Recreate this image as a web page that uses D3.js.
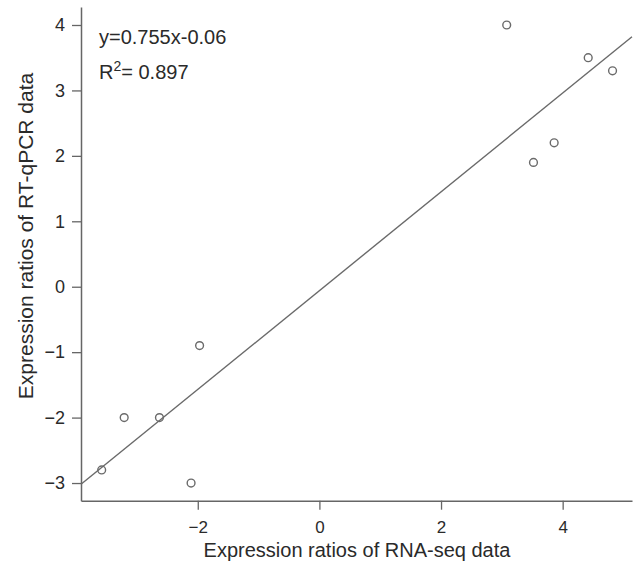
<!DOCTYPE html>
<html>
<head>
<meta charset="utf-8">
<script src="https://cdn.jsdelivr.net/npm/d3@7/dist/d3.min.js"></script>
<style>
  html, body { margin: 0; padding: 0; background: #fff; }
  svg { display: block; font-family: "Liberation Sans", Arial, sans-serif; }
</style>
</head>
<body>
<svg id="chart" width="633" height="564"></svg>
<script>
// Data
const rnaSeq = [-3.58, -3.21, -2.63, -1.97, -2.11, 3.08, 4.42, 4.82, 3.86, 3.52];
const rtqPCR = [-2.8, -2.0, -2.0, -0.9, -3.0, 4.0, 3.5, 3.3, 2.2, 1.9];
const xTicks = [-2, 0, 2, 4];
const yTicks = [-3, -2, -1, 0, 1, 2, 3, 4];
const slope = 0.755, intercept = -0.06;
const eqText = "y=0.755x-0.06";
const r2Text = "0.897";
const xLabel = "Expression ratios of RNA-seq data";
const yLabel = "Expression ratios of RT-qPCR data";

const svg = d3.select("#chart");
const grey = "#666";

const x = d3.scaleLinear().domain([-3.92, 5.14]).range([81, 632]);
const y = d3.scaleLinear().domain([-3.27, 4.275]).range([500.7, 7]);

const fmt = d => d < 0 ? "\u2212" + Math.abs(d) : d;

// axes
const xAxis = svg.append("g").attr("transform", `translate(0,${y.range()[0]})`)
  .call(d3.axisBottom(x).tickValues(xTicks).tickSize(9).tickSizeOuter(0).tickPadding(11).tickFormat(fmt));
const yAxis = svg.append("g").attr("transform", `translate(${x.range()[0]},0)`)
  .call(d3.axisLeft(y).tickValues(yTicks).tickSize(9).tickSizeOuter(0).tickPadding(7).tickFormat(fmt));
[xAxis, yAxis].forEach(g => {
  g.select(".domain").attr("stroke", grey).attr("stroke-width", 1.5);
  g.selectAll(".tick line").attr("stroke", grey).attr("stroke-width", 1.3);
  g.selectAll(".tick text").attr("fill", "#2a2a2a").style("font-size", "18px")
    .style("font-family", "'Liberation Sans', Arial, sans-serif");
});
xAxis.selectAll(".tick text").style("font-size", "17px");

// regression line
const xd = x.domain();
svg.append("line")
  .attr("x1", x(xd[0])).attr("y1", y(slope * xd[0] + intercept))
  .attr("x2", x(xd[1])).attr("y2", y(slope * xd[1] + intercept))
  .attr("stroke", "#6a6a6a").attr("stroke-width", 1.4);

// points
svg.append("g").selectAll("circle")
  .data(rnaSeq.map((v, i) => [v, rtqPCR[i]]))
  .join("circle")
  .attr("cx", d => x(d[0])).attr("cy", d => y(d[1]))
  .attr("r", 3.9).attr("fill", "none")
  .attr("stroke", "#6a6a6a").attr("stroke-width", 1.4);

// annotations
svg.append("text").attr("x", 99).attr("y", 44)
  .attr("fill", "#2a2a2a").style("font-size", "20px").text(eqText);
const r2 = svg.append("text").attr("x", 99).attr("y", 79)
  .attr("fill", "#2a2a2a").style("font-size", "20px");
r2.append("tspan").text("R");
r2.append("tspan").attr("dy", -8).style("font-size", "14px").text("2");
r2.append("tspan").attr("dy", 8).text("= " + r2Text);

// axis labels
svg.append("text").attr("x", 357).attr("y", 557).attr("text-anchor", "middle")
  .attr("fill", "#2a2a2a").style("font-size", "20px").text(xLabel);
svg.append("text").attr("transform", "translate(33,236) rotate(-90)")
  .attr("text-anchor", "middle").attr("fill", "#2a2a2a").style("font-size", "21px").text(yLabel);
</script>
</body>
</html>
